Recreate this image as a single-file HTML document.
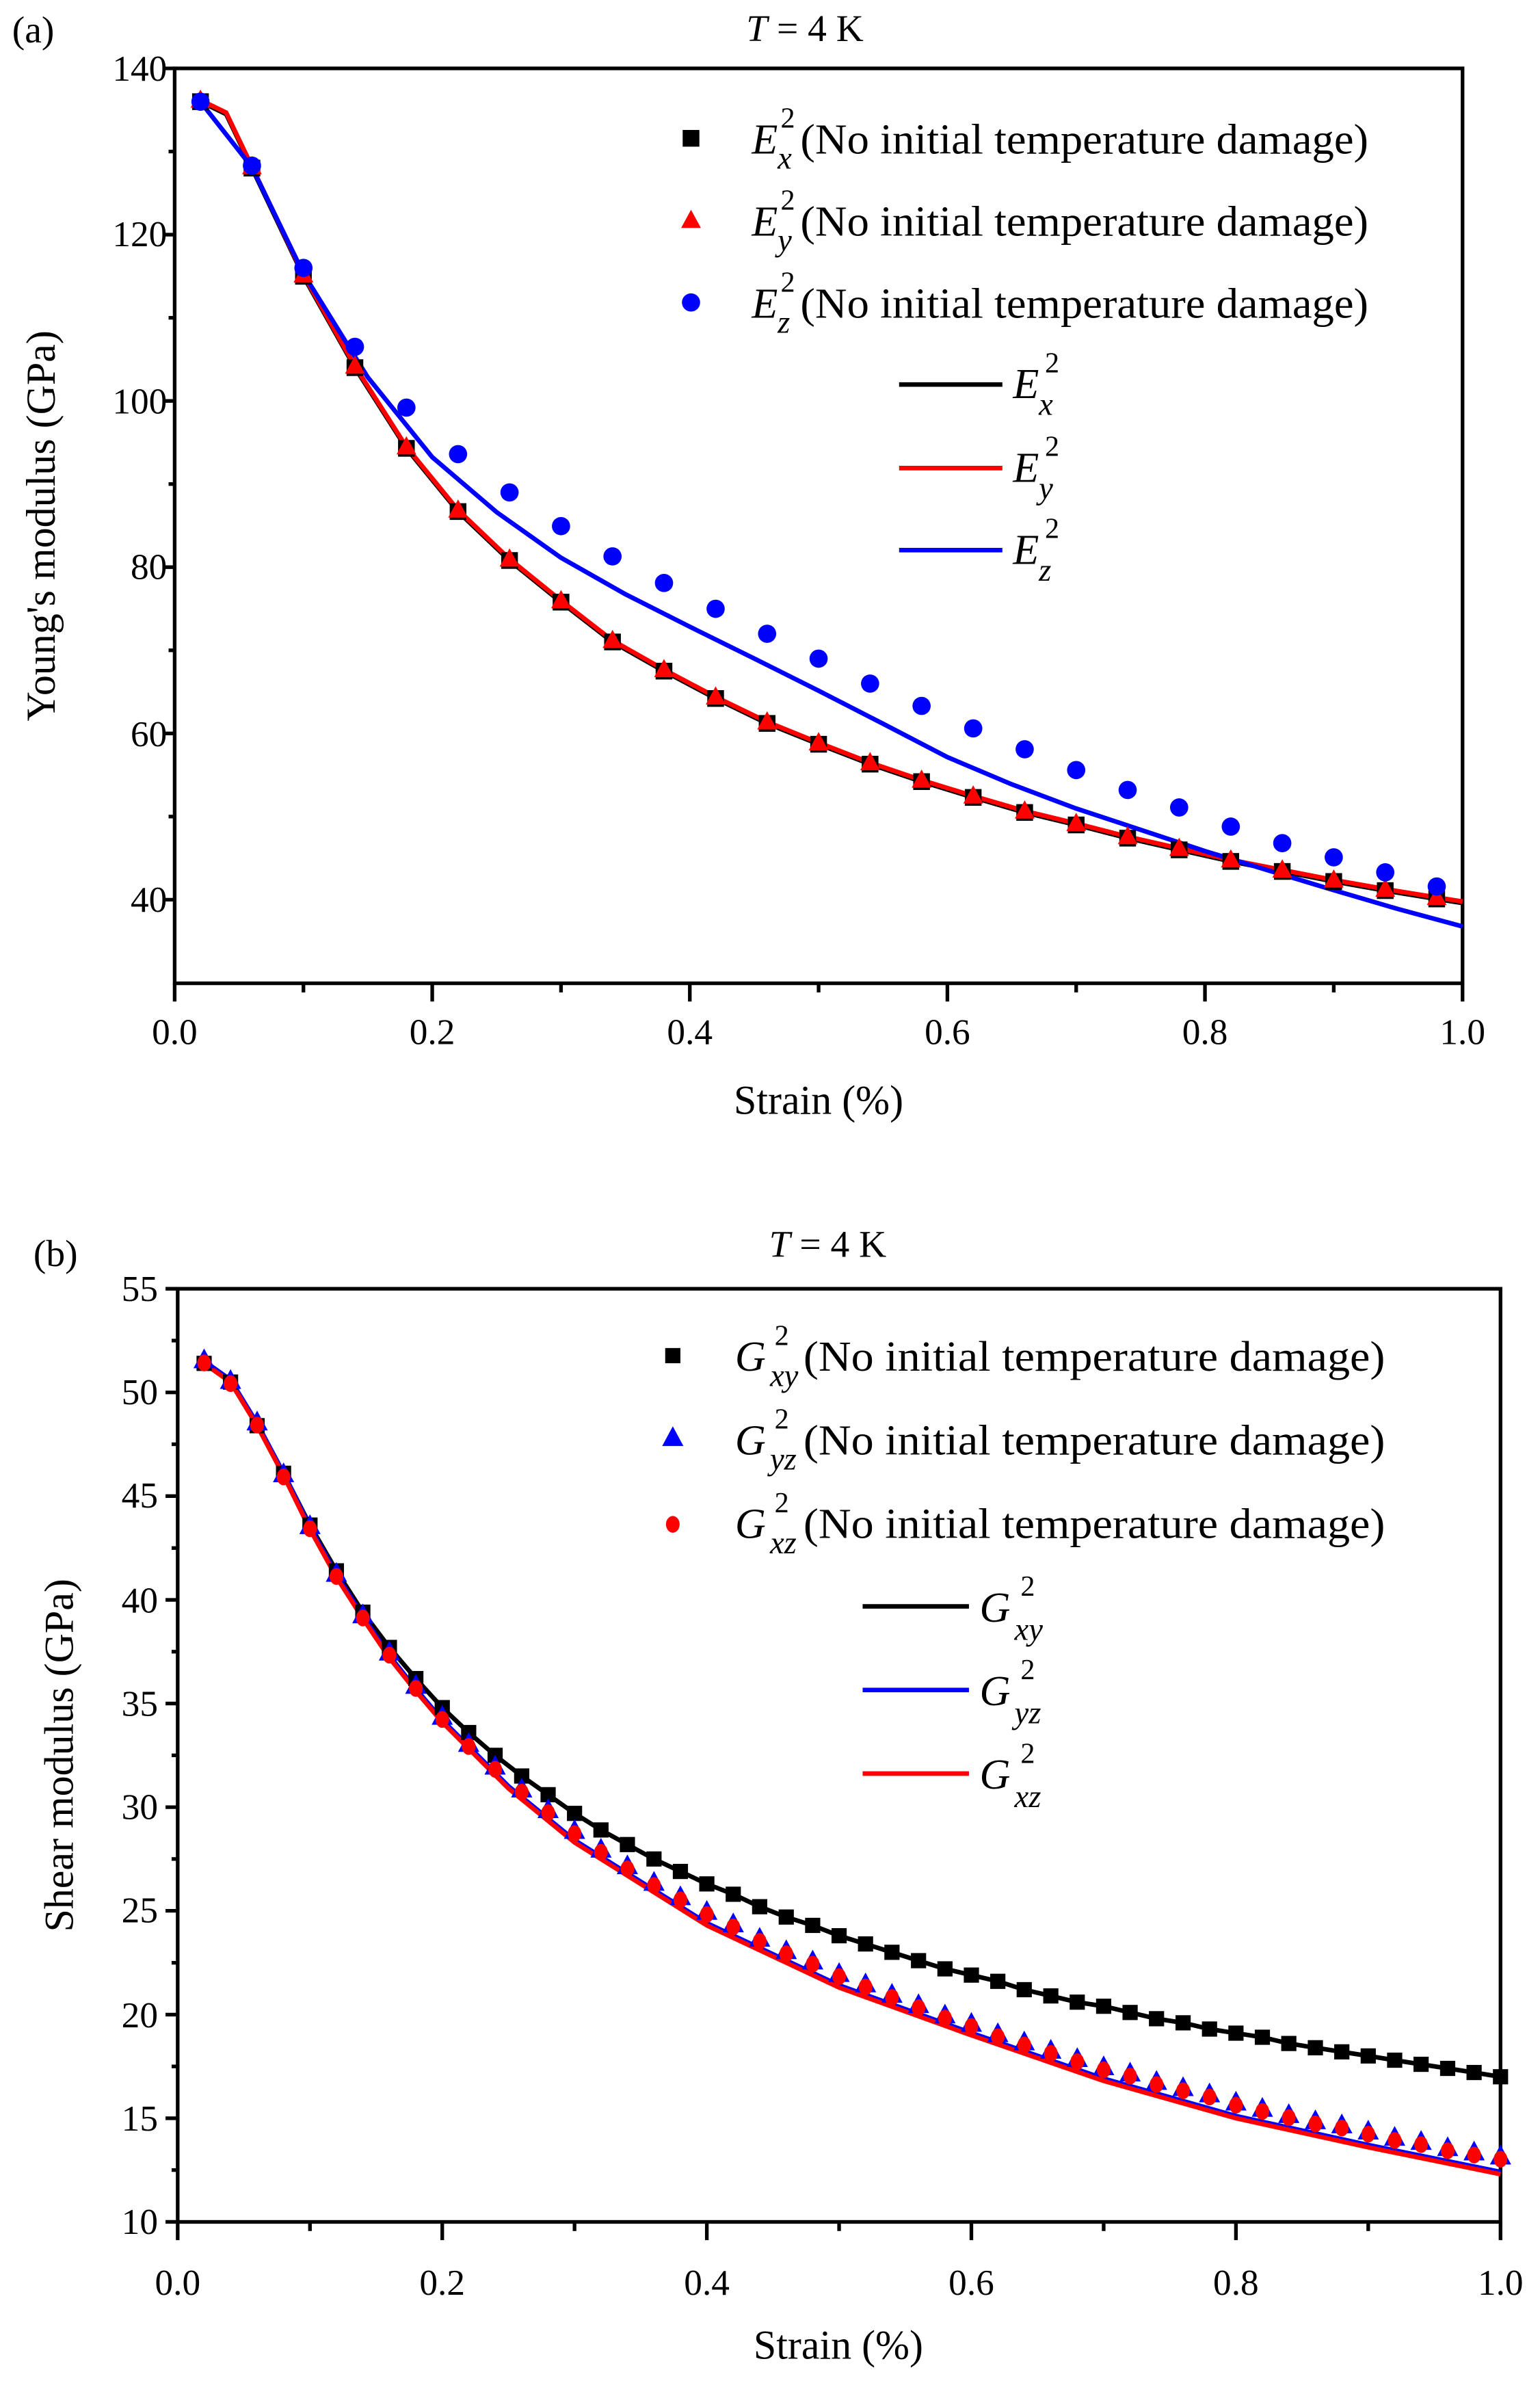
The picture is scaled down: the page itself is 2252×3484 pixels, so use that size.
<!DOCTYPE html>
<html><head><meta charset="utf-8"><style>
html,body{margin:0;padding:0;background:#fff}
svg{display:block}
svg text{font-family:"Liberation Serif","Times New Roman",Times,serif !important;fill:#000}
</style></head><body>
<svg width="2252" height="3484" viewBox="0 0 1014 1568" preserveAspectRatio="none" xmlns="http://www.w3.org/2000/svg" font-family="Liberation Serif, serif">
<defs>
<rect id="sqA" x="-5.5" y="-5.5" width="11" height="11" fill="#000"/>
<path id="trA" d="M0,-7 L6.5,5 L-6.5,5 Z" fill="#f00"/>
<circle id="ciA" r="6" fill="#00f"/>
<rect id="sqB" x="-5" y="-5" width="10" height="10" fill="#000"/>
<path id="trB" d="M0,-8.5 L7,4.5 L-7,4.5 Z" fill="#00f"/>
<ellipse id="ciB" cx="0" cy="1" rx="4.5" ry="5.5" fill="#f00"/>
</defs>

<!-- ============ PANEL A ============ -->
<text x="8" y="28" font-size="25">(a)</text>
<text x="530" y="27" font-size="25" text-anchor="middle"><tspan font-style="italic">T</tspan> = 4 K</text>
<rect x="115" y="45" width="848" height="602" fill="none" stroke="#000" stroke-width="2.4"/>
<g stroke="#000" stroke-width="2.4">
<line x1="115" y1="647" x2="115" y2="659"/><line x1="284.6" y1="647" x2="284.6" y2="659"/><line x1="454.2" y1="647" x2="454.2" y2="659"/><line x1="623.8" y1="647" x2="623.8" y2="659"/><line x1="793.4" y1="647" x2="793.4" y2="659"/><line x1="963" y1="647" x2="963" y2="659"/>
<line x1="199.8" y1="647" x2="199.8" y2="653"/><line x1="369.4" y1="647" x2="369.4" y2="653"/><line x1="539" y1="647" x2="539" y2="653"/><line x1="708.6" y1="647" x2="708.6" y2="653"/><line x1="878.2" y1="647" x2="878.2" y2="653"/>
<line x1="107" y1="45" x2="115" y2="45"/><line x1="107" y1="154.4" x2="115" y2="154.4"/><line x1="107" y1="263.8" x2="115" y2="263.8"/><line x1="107" y1="373.2" x2="115" y2="373.2"/><line x1="107" y1="482.6" x2="115" y2="482.6"/><line x1="107" y1="592" x2="115" y2="592"/>
<line x1="111" y1="99.7" x2="115" y2="99.7"/><line x1="111" y1="209.1" x2="115" y2="209.1"/><line x1="111" y1="318.5" x2="115" y2="318.5"/><line x1="111" y1="427.9" x2="115" y2="427.9"/><line x1="111" y1="537.3" x2="115" y2="537.3"/>
</g>
<g font-size="24" text-anchor="end">
<text x="110" y="53">140</text><text x="110" y="162">120</text><text x="110" y="272">100</text><text x="110" y="381">80</text><text x="110" y="491">60</text><text x="110" y="600">40</text>
</g>
<g font-size="24" text-anchor="middle">
<text x="115" y="687">0.0</text><text x="284.6" y="687">0.2</text><text x="454.2" y="687">0.4</text><text x="623.8" y="687">0.6</text><text x="793.4" y="687">0.8</text><text x="963" y="687">1.0</text>
</g>
<text x="539" y="733" font-size="27" text-anchor="middle">Strain (%)</text>
<text transform="translate(36,346) rotate(-90)" font-size="27" text-anchor="middle">Young's modulus (GPa)</text>

<polyline fill="none" stroke="#000" stroke-width="3" points="132,66.9 148.9,75.1 165.9,110.6 199.8,181.8 233.7,241.9 267.6,295 301.6,336.6 335.5,368.8 369.4,396.2 403.3,422.4 437.2,441.6 471.2,459.6 505.1,476 539,489.7 572.9,502.8 606.8,514.3 640.8,524.7 674.7,534.6 708.6,542.8 742.5,551.5 776.4,559.2 810.4,566.8 844.3,573.4 878.2,580 912.1,586 946,591.5 963,594.2"/>
<polyline fill="none" stroke="#f00" stroke-width="3" points="132,65.9 148.9,74.1 165.9,109.6 199.8,180.8 233.7,240.9 267.6,294 301.6,335.6 335.5,367.8 369.4,395.2 403.3,421.4 437.2,440.6 471.2,458.6 505.1,475 539,488.7 572.9,501.8 606.8,513.3 640.8,523.7 674.7,533.6 708.6,541.8 742.5,550.5 776.4,558.2 810.4,565.8 844.3,572.4 878.2,579 912.1,585 946,590.5 963,593.2"/>
<polyline fill="none" stroke="#00f" stroke-width="3" points="132,67 165.9,110 199.8,180 242,248 284.6,300.8 327,337 369.4,367 411.8,391 454.2,412.4 496,433 539,454.5 581,476 623.8,498.2 666,516 708.6,532 751,546 793.4,560 836,573 878.2,585.7 920,598 963,609.6"/>

<g>
<use href="#sqA" x="132" y="66.9"/><use href="#sqA" x="165.9" y="110.6"/><use href="#sqA" x="199.8" y="181.8"/><use href="#sqA" x="233.7" y="241.9"/><use href="#sqA" x="267.6" y="295"/><use href="#sqA" x="301.6" y="336.6"/><use href="#sqA" x="335.5" y="368.8"/><use href="#sqA" x="369.4" y="396.2"/><use href="#sqA" x="403.3" y="422.4"/><use href="#sqA" x="437.2" y="441.6"/><use href="#sqA" x="471.2" y="459.6"/><use href="#sqA" x="505.1" y="476"/><use href="#sqA" x="539" y="489.7"/><use href="#sqA" x="572.9" y="502.8"/><use href="#sqA" x="606.8" y="514.3"/><use href="#sqA" x="640.8" y="524.7"/><use href="#sqA" x="674.7" y="534.6"/><use href="#sqA" x="708.6" y="542.8"/><use href="#sqA" x="742.5" y="551.5"/><use href="#sqA" x="776.4" y="559.2"/><use href="#sqA" x="810.4" y="566.8"/><use href="#sqA" x="844.3" y="573.4"/><use href="#sqA" x="878.2" y="580"/><use href="#sqA" x="912.1" y="586"/><use href="#sqA" x="946" y="591.5"/>
</g>
<g>
<use href="#trA" x="132" y="65.9"/><use href="#trA" x="165.9" y="109.6"/><use href="#trA" x="199.8" y="180.8"/><use href="#trA" x="233.7" y="240.9"/><use href="#trA" x="267.6" y="294"/><use href="#trA" x="301.6" y="335.6"/><use href="#trA" x="335.5" y="367.8"/><use href="#trA" x="369.4" y="395.2"/><use href="#trA" x="403.3" y="421.4"/><use href="#trA" x="437.2" y="440.6"/><use href="#trA" x="471.2" y="458.6"/><use href="#trA" x="505.1" y="475"/><use href="#trA" x="539" y="488.7"/><use href="#trA" x="572.9" y="501.8"/><use href="#trA" x="606.8" y="513.3"/><use href="#trA" x="640.8" y="523.7"/><use href="#trA" x="674.7" y="533.6"/><use href="#trA" x="708.6" y="541.8"/><use href="#trA" x="742.5" y="550.5"/><use href="#trA" x="776.4" y="558.2"/><use href="#trA" x="810.4" y="565.8"/><use href="#trA" x="844.3" y="572.4"/><use href="#trA" x="878.2" y="579"/><use href="#trA" x="912.1" y="585"/><use href="#trA" x="946" y="590.5"/>
</g>
<g>
<use href="#ciA" x="132" y="66.9"/><use href="#ciA" x="165.9" y="109"/><use href="#ciA" x="199.8" y="176.3"/><use href="#ciA" x="233.7" y="228.2"/><use href="#ciA" x="267.6" y="268.2"/><use href="#ciA" x="301.6" y="298.8"/><use href="#ciA" x="335.5" y="324"/><use href="#ciA" x="369.4" y="346.2"/><use href="#ciA" x="403.3" y="366.1"/><use href="#ciA" x="437.2" y="383.6"/><use href="#ciA" x="471.2" y="400.6"/><use href="#ciA" x="505.1" y="417"/><use href="#ciA" x="539" y="433.4"/><use href="#ciA" x="572.9" y="449.8"/><use href="#ciA" x="606.8" y="464.5"/><use href="#ciA" x="640.8" y="479.3"/><use href="#ciA" x="674.7" y="493"/><use href="#ciA" x="708.6" y="506.7"/><use href="#ciA" x="742.5" y="519.8"/><use href="#ciA" x="776.4" y="531.3"/><use href="#ciA" x="810.4" y="543.9"/><use href="#ciA" x="844.3" y="554.8"/><use href="#ciA" x="878.2" y="564.1"/><use href="#ciA" x="912.1" y="574"/><use href="#ciA" x="946" y="583.3"/>
</g>

<use href="#sqA" x="455" y="91"/>
<use href="#trA" x="455" y="145"/>
<use href="#ciA" x="455" y="199"/>
<g font-size="28">
<text x="495" y="101" font-style="italic">E</text><text x="514" y="84" font-size="19">2</text><text x="512" y="111" font-size="21" font-style="italic">x</text>
<text x="527" y="101" textLength="374" lengthAdjust="spacingAndGlyphs">(No initial temperature damage)</text>
<text x="495" y="155" font-style="italic">E</text><text x="514" y="138" font-size="19">2</text><text x="512" y="165" font-size="21" font-style="italic">y</text>
<text x="527" y="155" textLength="374" lengthAdjust="spacingAndGlyphs">(No initial temperature damage)</text>
<text x="495" y="209" font-style="italic">E</text><text x="514" y="192" font-size="19">2</text><text x="512" y="219" font-size="21" font-style="italic">z</text>
<text x="527" y="209" textLength="374" lengthAdjust="spacingAndGlyphs">(No initial temperature damage)</text>
</g>
<line x1="592" y1="253" x2="660" y2="253" stroke="#000" stroke-width="3"/>
<line x1="592" y1="308" x2="660" y2="308" stroke="#f00" stroke-width="3"/>
<line x1="592" y1="362" x2="660" y2="362" stroke="#00f" stroke-width="3"/>
<g font-size="28">
<text x="667" y="262" font-style="italic">E</text><text x="688" y="245" font-size="19">2</text><text x="684" y="273" font-size="21" font-style="italic">x</text>
<text x="667" y="317" font-style="italic">E</text><text x="688" y="300" font-size="19">2</text><text x="684" y="328" font-size="21" font-style="italic">y</text>
<text x="667" y="371" font-style="italic">E</text><text x="688" y="354" font-size="19">2</text><text x="684" y="382" font-size="21" font-style="italic">z</text>
</g>

<!-- ============ PANEL B ============ -->
<text x="22" y="833" font-size="25">(b)</text>
<text x="545" y="827" font-size="25" text-anchor="middle"><tspan font-style="italic">T</tspan> = 4 K</text>
<rect x="117" y="848" width="871" height="614" fill="none" stroke="#000" stroke-width="2.4"/>
<g stroke="#000" stroke-width="2.4">
<line x1="117" y1="1462" x2="117" y2="1474"/><line x1="291.2" y1="1462" x2="291.2" y2="1474"/><line x1="465.4" y1="1462" x2="465.4" y2="1474"/><line x1="639.6" y1="1462" x2="639.6" y2="1474"/><line x1="813.8" y1="1462" x2="813.8" y2="1474"/><line x1="988" y1="1462" x2="988" y2="1474"/>
<line x1="204.1" y1="1462" x2="204.1" y2="1468"/><line x1="378.3" y1="1462" x2="378.3" y2="1468"/><line x1="552.5" y1="1462" x2="552.5" y2="1468"/><line x1="726.7" y1="1462" x2="726.7" y2="1468"/><line x1="900.9" y1="1462" x2="900.9" y2="1468"/>
<line x1="109" y1="848" x2="117" y2="848"/><line x1="109" y1="916.2" x2="117" y2="916.2"/><line x1="109" y1="984.4" x2="117" y2="984.4"/><line x1="109" y1="1052.7" x2="117" y2="1052.7"/><line x1="109" y1="1120.9" x2="117" y2="1120.9"/><line x1="109" y1="1189.1" x2="117" y2="1189.1"/><line x1="109" y1="1257.3" x2="117" y2="1257.3"/><line x1="109" y1="1325.6" x2="117" y2="1325.6"/><line x1="109" y1="1393.8" x2="117" y2="1393.8"/><line x1="109" y1="1462" x2="117" y2="1462"/>
<line x1="113" y1="882.1" x2="117" y2="882.1"/><line x1="113" y1="950.3" x2="117" y2="950.3"/><line x1="113" y1="1018.6" x2="117" y2="1018.6"/><line x1="113" y1="1086.8" x2="117" y2="1086.8"/><line x1="113" y1="1155" x2="117" y2="1155"/><line x1="113" y1="1223.2" x2="117" y2="1223.2"/><line x1="113" y1="1291.5" x2="117" y2="1291.5"/><line x1="113" y1="1359.7" x2="117" y2="1359.7"/><line x1="113" y1="1427.9" x2="117" y2="1427.9"/>
</g>
<g font-size="24" text-anchor="end">
<text x="104" y="856">55</text><text x="104" y="924">50</text><text x="104" y="992">45</text><text x="104" y="1061">40</text><text x="104" y="1129">35</text><text x="104" y="1197">30</text><text x="104" y="1265">25</text><text x="104" y="1334">20</text><text x="104" y="1402">15</text><text x="104" y="1470">10</text>
</g>
<g font-size="24" text-anchor="middle">
<text x="117" y="1510">0.0</text><text x="291.2" y="1510">0.2</text><text x="465.4" y="1510">0.4</text><text x="639.6" y="1510">0.6</text><text x="813.8" y="1510">0.8</text><text x="988" y="1510">1.0</text>
</g>
<text x="552" y="1552" font-size="27" text-anchor="middle">Strain (%)</text>
<text transform="translate(48,1155) rotate(-90)" font-size="27" text-anchor="middle">Shear modulus (GPa)</text>

<polyline fill="none" stroke="#000" stroke-width="3" points="134.4,897.1 151.8,909.4 169.3,938.1 186.7,969.4 204.1,1003.5 221.5,1033.6 238.9,1060.8 256.4,1084 273.8,1104.5 291.2,1123.6 308.6,1140 326,1155 343.5,1168.6 360.9,1180.9 378.3,1193.2 395.7,1204.1 413.1,1213.7 430.6,1223.2 448,1231.4 465.4,1239.6 482.8,1246.4 500.2,1254.6 517.7,1261.4 535.1,1266.9 552.5,1273.7 569.9,1279.1 587.3,1284.6 604.8,1290.1 622.2,1295.5 639.6,1299.6 657,1303.7 674.4,1309.2 691.9,1313.3 709.3,1317.4 726.7,1320.1 744.1,1324.2 761.5,1328.3 779,1331 796.4,1335.1 813.8,1337.8 831.2,1340.5 848.6,1344.6 866.1,1347.4 883.5,1350.1 900.9,1352.8 918.3,1355.6 935.7,1358.3 953.2,1361 970.6,1363.7 988,1366.5"/>
<polyline fill="none" stroke="#00f" stroke-width="3" points="134.4,895.6 151.8,907.9 169.3,936.6 186.7,969.3 204.1,1004.8 221.5,1036.2 238.9,1063.4 256.4,1089.4 273.8,1111.2 291.2,1131.7 334.8,1175.3 378.3,1210.8 465.4,1265.4 552.5,1306.3 639.6,1337.7 726.7,1367.7 813.8,1392.3 900.9,1411.4 988,1429.1"/>
<polyline fill="none" stroke="#f00" stroke-width="3" points="134.4,897.1 151.8,909.4 169.3,938.1 186.7,970.8 204.1,1006.3 221.5,1037.7 238.9,1064.9 256.4,1090.9 273.8,1112.7 291.2,1133.2 334.8,1176.8 378.3,1212.3 465.4,1266.9 552.5,1307.8 639.6,1339.2 726.7,1369.2 813.8,1393.8 900.9,1412.9 988,1430.6"/>

<g>
<use href="#sqB" x="134.4" y="897.1"/><use href="#sqB" x="151.8" y="909.4"/><use href="#sqB" x="169.3" y="938.1"/><use href="#sqB" x="186.7" y="969.4"/><use href="#sqB" x="204.1" y="1003.5"/><use href="#sqB" x="221.5" y="1033.6"/><use href="#sqB" x="238.9" y="1060.8"/><use href="#sqB" x="256.4" y="1084"/><use href="#sqB" x="273.8" y="1104.5"/><use href="#sqB" x="291.2" y="1123.6"/><use href="#sqB" x="308.6" y="1140"/><use href="#sqB" x="326" y="1155"/><use href="#sqB" x="343.5" y="1168.6"/><use href="#sqB" x="360.9" y="1180.9"/><use href="#sqB" x="378.3" y="1193.2"/><use href="#sqB" x="395.7" y="1204.1"/><use href="#sqB" x="413.1" y="1213.7"/><use href="#sqB" x="430.6" y="1223.2"/><use href="#sqB" x="448" y="1231.4"/><use href="#sqB" x="465.4" y="1239.6"/><use href="#sqB" x="482.8" y="1246.4"/><use href="#sqB" x="500.2" y="1254.6"/><use href="#sqB" x="517.7" y="1261.4"/><use href="#sqB" x="535.1" y="1266.9"/><use href="#sqB" x="552.5" y="1273.7"/><use href="#sqB" x="569.9" y="1279.1"/><use href="#sqB" x="587.3" y="1284.6"/><use href="#sqB" x="604.8" y="1290.1"/><use href="#sqB" x="622.2" y="1295.5"/><use href="#sqB" x="639.6" y="1299.6"/><use href="#sqB" x="657" y="1303.7"/><use href="#sqB" x="674.4" y="1309.2"/><use href="#sqB" x="691.9" y="1313.3"/><use href="#sqB" x="709.3" y="1317.4"/><use href="#sqB" x="726.7" y="1320.1"/><use href="#sqB" x="744.1" y="1324.2"/><use href="#sqB" x="761.5" y="1328.3"/><use href="#sqB" x="779" y="1331"/><use href="#sqB" x="796.4" y="1335.1"/><use href="#sqB" x="813.8" y="1337.8"/><use href="#sqB" x="831.2" y="1340.5"/><use href="#sqB" x="848.6" y="1344.6"/><use href="#sqB" x="866.1" y="1347.4"/><use href="#sqB" x="883.5" y="1350.1"/><use href="#sqB" x="900.9" y="1352.8"/><use href="#sqB" x="918.3" y="1355.6"/><use href="#sqB" x="935.7" y="1358.3"/><use href="#sqB" x="953.2" y="1361"/><use href="#sqB" x="970.6" y="1363.7"/><use href="#sqB" x="988" y="1366.5"/>
</g>
<g>
<use href="#trB" x="134.4" y="895.8"/><use href="#trB" x="151.8" y="909.4"/><use href="#trB" x="169.3" y="936.7"/><use href="#trB" x="186.7" y="970.8"/><use href="#trB" x="204.1" y="1004.9"/><use href="#trB" x="221.5" y="1036.3"/><use href="#trB" x="238.9" y="1063.6"/><use href="#trB" x="256.4" y="1088.1"/><use href="#trB" x="273.8" y="1110"/><use href="#trB" x="291.2" y="1130.4"/><use href="#trB" x="308.6" y="1148.2"/><use href="#trB" x="326" y="1163.2"/><use href="#trB" x="343.5" y="1178.2"/><use href="#trB" x="360.9" y="1191.8"/><use href="#trB" x="378.3" y="1205.5"/><use href="#trB" x="395.7" y="1217.8"/><use href="#trB" x="413.1" y="1228.7"/><use href="#trB" x="430.6" y="1239.6"/><use href="#trB" x="448" y="1249.1"/><use href="#trB" x="465.4" y="1258.7"/><use href="#trB" x="482.8" y="1266.9"/><use href="#trB" x="500.2" y="1276.4"/><use href="#trB" x="517.7" y="1284.6"/><use href="#trB" x="535.1" y="1291.4"/><use href="#trB" x="552.5" y="1299.6"/><use href="#trB" x="569.9" y="1306.4"/><use href="#trB" x="587.3" y="1313.3"/><use href="#trB" x="604.8" y="1320.1"/><use href="#trB" x="622.2" y="1326.9"/><use href="#trB" x="639.6" y="1332.4"/><use href="#trB" x="657" y="1339.2"/><use href="#trB" x="674.4" y="1344.6"/><use href="#trB" x="691.9" y="1350.1"/><use href="#trB" x="709.3" y="1355.6"/><use href="#trB" x="726.7" y="1361"/><use href="#trB" x="744.1" y="1365.1"/><use href="#trB" x="761.5" y="1370.6"/><use href="#trB" x="779" y="1374.7"/><use href="#trB" x="796.4" y="1378.8"/><use href="#trB" x="813.8" y="1384.2"/><use href="#trB" x="831.2" y="1388.3"/><use href="#trB" x="848.6" y="1392.4"/><use href="#trB" x="866.1" y="1396.5"/><use href="#trB" x="883.5" y="1399.2"/><use href="#trB" x="900.9" y="1403.3"/><use href="#trB" x="918.3" y="1407.4"/><use href="#trB" x="935.7" y="1410.1"/><use href="#trB" x="953.2" y="1414.2"/><use href="#trB" x="970.6" y="1417"/><use href="#trB" x="988" y="1419.7"/>
</g>
<g>
<use href="#ciB" x="134.4" y="895.8"/><use href="#ciB" x="151.8" y="909.4"/><use href="#ciB" x="169.3" y="936.7"/><use href="#ciB" x="186.7" y="970.8"/><use href="#ciB" x="204.1" y="1004.9"/><use href="#ciB" x="221.5" y="1036.3"/><use href="#ciB" x="238.9" y="1063.6"/><use href="#ciB" x="256.4" y="1088.1"/><use href="#ciB" x="273.8" y="1110"/><use href="#ciB" x="291.2" y="1130.4"/><use href="#ciB" x="308.6" y="1148.2"/><use href="#ciB" x="326" y="1163.2"/><use href="#ciB" x="343.5" y="1178.2"/><use href="#ciB" x="360.9" y="1191.8"/><use href="#ciB" x="378.3" y="1205.5"/><use href="#ciB" x="395.7" y="1217.8"/><use href="#ciB" x="413.1" y="1228.7"/><use href="#ciB" x="430.6" y="1239.6"/><use href="#ciB" x="448" y="1249.1"/><use href="#ciB" x="465.4" y="1258.7"/><use href="#ciB" x="482.8" y="1266.9"/><use href="#ciB" x="500.2" y="1276.4"/><use href="#ciB" x="517.7" y="1284.6"/><use href="#ciB" x="535.1" y="1291.4"/><use href="#ciB" x="552.5" y="1299.6"/><use href="#ciB" x="569.9" y="1306.4"/><use href="#ciB" x="587.3" y="1313.3"/><use href="#ciB" x="604.8" y="1320.1"/><use href="#ciB" x="622.2" y="1326.9"/><use href="#ciB" x="639.6" y="1332.4"/><use href="#ciB" x="657" y="1339.2"/><use href="#ciB" x="674.4" y="1344.6"/><use href="#ciB" x="691.9" y="1350.1"/><use href="#ciB" x="709.3" y="1355.6"/><use href="#ciB" x="726.7" y="1361"/><use href="#ciB" x="744.1" y="1365.1"/><use href="#ciB" x="761.5" y="1370.6"/><use href="#ciB" x="779" y="1374.7"/><use href="#ciB" x="796.4" y="1378.8"/><use href="#ciB" x="813.8" y="1384.2"/><use href="#ciB" x="831.2" y="1388.3"/><use href="#ciB" x="848.6" y="1392.4"/><use href="#ciB" x="866.1" y="1396.5"/><use href="#ciB" x="883.5" y="1399.2"/><use href="#ciB" x="900.9" y="1403.3"/><use href="#ciB" x="918.3" y="1407.4"/><use href="#ciB" x="935.7" y="1410.1"/><use href="#ciB" x="953.2" y="1414.2"/><use href="#ciB" x="970.6" y="1417"/><use href="#ciB" x="988" y="1419.7"/>
</g>

<use href="#sqB" x="443" y="892"/>
<use href="#trB" x="443" y="947"/>
<use href="#ciB" x="443" y="1002"/>
<g font-size="28">
<text x="484" y="902" font-style="italic">G</text><text x="510" y="885" font-size="19">2</text><text x="507" y="912" font-size="21" font-style="italic">xy</text>
<text x="529" y="902" textLength="383" lengthAdjust="spacingAndGlyphs">(No initial temperature damage)</text>
<text x="484" y="957" font-style="italic">G</text><text x="510" y="940" font-size="19">2</text><text x="507" y="967" font-size="21" font-style="italic">yz</text>
<text x="529" y="957" textLength="383" lengthAdjust="spacingAndGlyphs">(No initial temperature damage)</text>
<text x="484" y="1012" font-style="italic">G</text><text x="510" y="995" font-size="19">2</text><text x="507" y="1022" font-size="21" font-style="italic">xz</text>
<text x="529" y="1012" textLength="383" lengthAdjust="spacingAndGlyphs">(No initial temperature damage)</text>
</g>
<line x1="568" y1="1057" x2="638" y2="1057" stroke="#000" stroke-width="3"/>
<line x1="568" y1="1112" x2="638" y2="1112" stroke="#00f" stroke-width="3"/>
<line x1="568" y1="1167" x2="638" y2="1167" stroke="#f00" stroke-width="3"/>
<g font-size="28">
<text x="645" y="1067" font-style="italic">G</text><text x="672" y="1050" font-size="19">2</text><text x="668" y="1079" font-size="21" font-style="italic">xy</text>
<text x="645" y="1122" font-style="italic">G</text><text x="672" y="1105" font-size="19">2</text><text x="668" y="1134" font-size="21" font-style="italic">yz</text>
<text x="645" y="1177" font-style="italic">G</text><text x="672" y="1160" font-size="19">2</text><text x="668" y="1189" font-size="21" font-style="italic">xz</text>
</g>
</svg>
</body></html>
